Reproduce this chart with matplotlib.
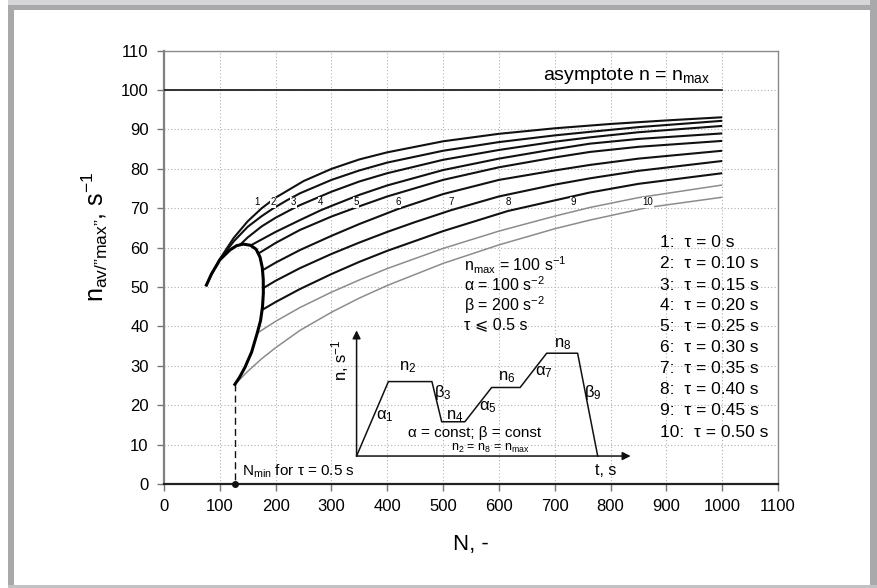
import matplotlib
matplotlib.use("Agg")
import matplotlib.pyplot as plt
from matplotlib.patches import Rectangle

plt.rcParams['font.family'] = ['Liberation Sans', 'DejaVu Sans']
plt.rcParams['mathtext.fontset'] = 'custom'
plt.rcParams['mathtext.rm'] = 'Liberation Sans'
plt.rcParams['mathtext.it'] = 'Liberation Sans'
plt.rcParams['mathtext.sf'] = 'Liberation Sans'

# ---------------- data ----------------
x_ticks = [0, 100, 200, 300, 400, 500, 600, 700, 800, 900, 1000, 1100]
y_ticks = [0, 10, 20, 30, 40, 50, 60, 70, 80, 90, 100, 110]

curve_labels = ["1", "2", "3", "4", "5", "6", "7", "8", "9", "10"]
legend_lines = ["1:  τ = 0 s", "2:  τ = 0.10 s", "3:  τ = 0.15 s", "4:  τ = 0.20 s",
                "5:  τ = 0.25 s", "6:  τ = 0.30 s", "7:  τ = 0.35 s", "8:  τ = 0.40 s",
                "9:  τ = 0.45 s", "10:  τ = 0.50 s"]

c1_N = [76, 85, 100, 125, 150, 175, 200, 250, 300, 350, 400, 500, 600, 700, 800, 900, 1000]
c1_n = [50.5, 53.2, 57.1, 62.5, 66.7, 70.0, 72.7, 76.9, 80.0, 82.4, 84.2, 87.0, 88.9, 90.3, 91.4, 92.3, 93.1]
c2_N = [100, 125, 150, 175, 196, 220, 243.6, 300, 350, 400, 500, 600, 700, 763, 850, 1000]
c2_n = [57.0, 61.6, 65.3, 68.0, 70.0, 72.0, 73.8, 77.2, 79.6, 81.6, 84.6, 86.8, 88.5, 89.4, 90.6, 92.2]
c3_N = [136, 150, 175, 200, 232, 243.6, 300, 350, 400, 500, 600, 700, 763, 850, 1000]
c3_n = [60.7, 62.6, 65.4, 67.6, 70.0, 70.8, 74.2, 76.8, 78.9, 82.3, 84.8, 86.9, 88.0, 89.3, 90.9]
c4_N = [157, 200, 243.6, 281, 300, 350, 400, 500, 600, 700, 763, 850, 1000]
c4_n = [60.7, 64.0, 67.0, 69.5, 70.6, 73.4, 75.8, 79.7, 82.6, 85.0, 86.4, 87.6, 89.0]
c5_N = [169, 200, 243.6, 300, 344, 400, 500, 600, 700, 763, 850, 1000]
c5_n = [58.5, 61.2, 64.5, 67.9, 70.2, 73.0, 77.2, 80.4, 82.9, 84.3, 85.6, 87.1]
c6_N = [177, 200, 243.6, 300, 350, 419, 500, 600, 700, 763, 850, 1000]
c6_n = [54.3, 56.2, 59.4, 63.0, 66.0, 69.8, 73.6, 77.2, 79.6, 81.0, 82.6, 84.6]
c7_N = [177.5, 200, 243.6, 300, 350, 400, 450, 514, 600, 700, 763, 850, 1000]
c7_n = [49.7, 51.6, 54.8, 58.4, 61.3, 64.0, 66.5, 69.5, 73.0, 76.0, 77.6, 79.5, 82.0]
c8_N = [175.8, 200, 243.6, 300, 350, 400, 500, 616, 700, 763, 850, 1000]
c8_n = [44.2, 46.2, 49.5, 53.3, 56.4, 59.2, 64.2, 69.3, 72.0, 74.0, 76.2, 78.9]
c9_N = [167, 200, 243.6, 300, 350, 400, 500, 600, 700, 763, 850, 1000]
c9_n = [38.3, 41.3, 44.8, 48.7, 51.8, 54.7, 59.8, 64.2, 68.0, 70.2, 72.7, 75.9]
c10_N = [127, 150, 175, 200, 243.6, 300, 350, 400, 500, 600, 700, 763, 867, 1000]
c10_n = [25.3, 28.6, 31.8, 34.6, 39.0, 43.6, 47.2, 50.4, 56.0, 60.7, 64.8, 67.0, 70.2, 72.8]

env_N = [76, 85, 100, 118, 130, 142, 155, 165, 172, 176, 177.8, 178, 176.5, 173, 167, 157, 145, 135, 127]
env_n = [50.5, 53.3, 56.9, 59.4, 60.5, 60.9, 60.6, 59.6, 57.6, 55.0, 52.0, 48.5, 45.0, 41.5, 38.3, 33.5, 29.6, 27.0, 25.3]

label_N = [166, 196, 232, 281, 344, 419, 514, 616, 733, 867]
label_n = [71.5, 71.5, 71.5, 71.5, 71.5, 71.5, 71.5, 71.5, 71.5, 71.5]

# inset schematic (speed profile)
prof_N = [345, 402, 480, 497.5, 539, 587, 638, 685.6, 741, 777]
prof_n = [7.1, 26.0, 26.0, 15.8, 15.8, 24.5, 24.5, 33.2, 33.2, 7.1]
prof_lbl = ["$\\alpha_1$", "n$_2$", "$\\beta_3$", "n$_4$", "$\\alpha_5$", "n$_6$",
            "$\\alpha_7$", "n$_8$", "$\\beta_9$"]
prof_lbl_N = [396, 437, 500, 521, 581, 614, 679.5, 714, 768]
prof_lbl_n = [17.1, 29.6, 23.2, 17.3, 19.6, 27.0, 28.3, 35.5, 23.2]

curves = [(c1_N, c1_n), (c2_N, c2_n), (c3_N, c3_n), (c4_N, c4_n), (c5_N, c5_n),
          (c6_N, c6_n), (c7_N, c7_n), (c8_N, c8_n), (c9_N, c9_n), (c10_N, c10_n)]

# ---------------- figure ----------------
W, H = 877, 588
fig = plt.figure(figsize=(W / 100, H / 100), dpi=100, facecolor='white')

def frect(x0, y0, x1, y1, color):
    fig.patches.append(Rectangle((x0 / W, 1 - y1 / H), (x1 - x0) / W, (y1 - y0) / H,
                                 transform=fig.transFigure, facecolor=color,
                                 edgecolor='none', zorder=0))

frect(8, 0, W, 6, '#d6d6d8')       # top light band
frect(8, 5, W, 10, '#a9a9ab')      # top border
frect(8, 5, 14, H, '#a9a9ab')      # left border
frect(870, 0, W, H, '#a9a9ab')     # right border
frect(8, 585, W, H, '#c2c2c4')     # bottom border

ax = fig.add_axes([164 / W, 1 - 484 / H, 614 / W, 433.3 / H])
ax.set_xlim(0, 1100)
ax.set_ylim(0, 110)
ax.set_xticks(x_ticks)
ax.set_yticks(y_ticks)
ax.tick_params(axis='both', labelsize=12, direction='out', length=5, width=1,
               color='#777777', pad=6)
for s in ['top', 'right']:
    ax.spines[s].set_color('#8a8a8a')
    ax.spines[s].set_linewidth(1)
ax.spines['left'].set_color('#808080')
ax.spines['left'].set_linewidth(1.6)
ax.spines['bottom'].set_color('#222222')
ax.spines['bottom'].set_linewidth(1.6)
ax.grid(True, linestyle=(0, (1, 2)), color='#b0b0b0', linewidth=0.8)
ax.set_axisbelow(True)

ax.set_xlabel('N, -', fontsize=16)
ax.xaxis.set_label_coords(0.5, -0.115)
ax.set_ylabel('n$_{\\mathrm{av/”max”}}$, s$^{-1}$', fontsize=18)
ax.yaxis.set_label_coords(-0.088, 0.57)

# asymptote
ax.plot([0, 1000], [100, 100], color='#111111', lw=1.2, zorder=3)
ax.text(978, 103.7, 'asymptote n = n$_{\\mathrm{max}}$', fontsize=14,
        ha='right', va='center')

# curves
for i, (cn, cv) in enumerate(curves):
    col = '#111111' if i < 8 else '#8c8c8c'
    lw = 1.5 if i < 8 else 1.1
    ax.plot(cn, cv, color=col, lw=lw, zorder=4, solid_capstyle='butt',
            solid_joinstyle='round')

ax.plot(env_N, env_n, color='#000000', lw=2.2, zorder=5, solid_joinstyle='round')

for t, xn, yn in zip(curve_labels, label_N, label_n):
    ax.text(xn, yn, t, fontsize=7, ha='center', va='center', zorder=6,
            bbox=dict(facecolor='white', edgecolor='none', pad=0.3))

# N_min marker
ax.plot([env_N[-1], env_N[-1]], [env_n[-1], 0], color='#111111', lw=1,
        linestyle=(0, (5, 3)), zorder=4)
ax.plot([env_N[-1]], [0], 'o', color='#111111', ms=4, zorder=6, clip_on=False)
ax.text(139, 3.2, 'N$_{\\mathrm{min}}$ for τ = 0.5 s', fontsize=11,
        ha='left', va='center')

# parameters block
params = ['n$_{\\mathrm{max}}$ = 100 s$^{-1}$',
          'α = 100 s$^{-2}$',
          'β = 200 s$^{-2}$',
          'τ ⩽ 0.5 s']
param_n = [55.5, 50.5, 45.4, 40.4]
for t, yn in zip(params, param_n):
    ax.text(537, yn, t, fontsize=11.5, ha='left', va='center',
            family=['Liberation Sans', 'DejaVu Sans'])

# legend block
leg_n = [61.3, 56.0, 50.3, 45.2, 39.9, 34.6, 29.3, 23.9, 18.6, 13.2]
for t, yn in zip(legend_lines, leg_n):
    ax.text(888, yn, t, fontsize=12.5, ha='left', va='center')

# inset schematic
ax.plot(prof_N, prof_n, color='#111111', lw=1.1, zorder=5)
ax.annotate('', xy=(345, 39.0), xytext=(345, 7.1),
            arrowprops=dict(arrowstyle='-|>', color='#111111', lw=1.1,
                            mutation_scale=12, shrinkA=0, shrinkB=0), zorder=5)
ax.annotate('', xy=(836, 7.1), xytext=(345, 7.1),
            arrowprops=dict(arrowstyle='-|>', color='#111111', lw=1.1,
                            mutation_scale=12, shrinkA=0, shrinkB=0), zorder=5)
for t, xn, yn in zip(prof_lbl, prof_lbl_N, prof_lbl_n):
    ax.text(xn, yn, t, fontsize=12, ha='center', va='center', zorder=6)
ax.text(315, 31.5, 'n, s$^{-1}$', fontsize=12, rotation=90,
        ha='center', va='center')
ax.text(557, 12.9, 'α = const; β = const', fontsize=11, ha='center', va='center')
ax.text(584, 9.0, 'n$_2$ = n$_8$ = n$_{\\mathrm{max}}$', fontsize=9,
        ha='center', va='center')
ax.text(792, 3.5, 't, s', fontsize=11.5, ha='center', va='center')

fig.savefig('out.png', dpi=100, facecolor=fig.get_facecolor())
